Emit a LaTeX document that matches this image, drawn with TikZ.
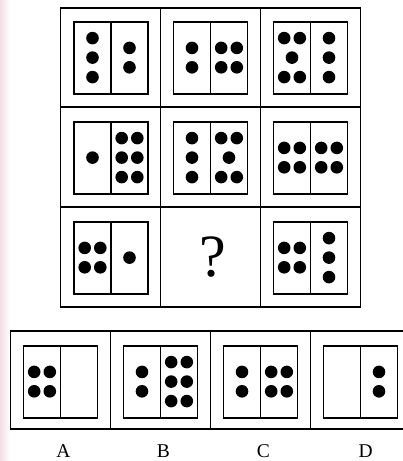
\documentclass[tikz,border=0pt]{standalone}
\usepackage{fontspec}
\setmainfont{Liberation Serif}
\newcommand\pNone[2]{}
\newcommand\pOne[2]{\fill (#1,#2) circle[radius=6.3];}
\newcommand\pTwo[2]{\fill (#1,#2-9.7) circle[radius=6.3] (#1,#2+9.7) circle[radius=6.3];}
\newcommand\pThree[2]{\fill (#1,#2-19.5) circle[radius=6.3] (#1,#2) circle[radius=6.3] (#1,#2+19.5) circle[radius=6.3];}
\newcommand\pFour[2]{\fill (#1-7.8,#2-9.7) circle[radius=6.3] (#1+7.8,#2-9.7) circle[radius=6.3] (#1-7.8,#2+9.7) circle[radius=6.3] (#1+7.8,#2+9.7) circle[radius=6.3];}
\newcommand\pFive[2]{\fill (#1-7.8,#2-19.5) circle[radius=6.3] (#1+7.8,#2-19.5) circle[radius=6.3] (#1,#2) circle[radius=6.3] (#1-7.8,#2+19.5) circle[radius=6.3] (#1+7.8,#2+19.5) circle[radius=6.3];}
\newcommand\pSix[2]{\fill (#1-7.8,#2-19.5) circle[radius=6.3] (#1+7.8,#2-19.5) circle[radius=6.3] (#1-7.8,#2) circle[radius=6.3] (#1+7.8,#2) circle[radius=6.3] (#1-7.8,#2+19.5) circle[radius=6.3] (#1+7.8,#2+19.5) circle[radius=6.3];}
% #1 divider x, #2 centre y, #3 left pattern, #4 right pattern
\newcommand\card[4]{%
  \draw[innerbox] (#1-37,#2-36) rectangle (#1+37,#2+36);
  \draw[innerbox] (#1,#2-36) -- (#1,#2+36);
  #3{#1-18.5}{#2-0.4}
  #4{#1+18.5}{#2-0.4}
}
\begin{document}
\begin{tikzpicture}[x=1pt,y=-1pt,
  frame/.style={draw=black,line width=1.9pt},
  innerbox/.style={draw=black,line width=1.8pt},
  lbl/.style={font=\fontsize{19.5}{20}\selectfont,anchor=base,inner sep=0pt}]
\useasboundingbox (0,0) rectangle (403,461);
\clip (0,0) rectangle (403,461);
\fill[white] (0,0) rectangle (403,461);
\shade[left color={rgb,255:red,243;green,222;blue,228},right color=white] (0,0) rectangle (10,461);
% top grid
\draw[frame] (60.5,8) rectangle (360.5,307);
\draw[frame] (160.5,8) -- (160.5,307) (260.5,8) -- (260.5,307);
\draw[frame] (60.5,107) -- (360.5,107) (60.5,207) -- (360.5,207);
% row 1
\card{111}{58}{\pThree}{\pTwo}
\card{210.5}{58}{\pTwo}{\pFour}
\card{310.5}{58}{\pFive}{\pThree}
% row 2
\card{111}{158}{\pOne}{\pSix}
\card{210.5}{158}{\pThree}{\pFive}
\card{310.5}{158}{\pFour}{\pFour}
% row 3
\card{111}{258}{\pFour}{\pOne}
\node[inner sep=0pt,font=\fontsize{60}{60}\selectfont] (q) at (213,257) {?};
\card{310.5}{258}{\pFour}{\pThree}
% options
\draw[frame] (10.5,330.7) rectangle (412,429);
\draw[frame] (110.5,330.7) -- (110.5,429) (210.5,330.7) -- (210.5,429) (310.5,330.7) -- (310.5,429);
\card{60.5}{382}{\pFour}{\pNone}
\card{160.5}{382}{\pTwo}{\pSix}
\card{260.5}{382}{\pTwo}{\pFour}
\card{360.5}{382}{\pNone}{\pTwo}
\node[lbl] (la) at (63.3,457) {A};
\node[lbl] (lb) at (163.3,457) {B};
\node[lbl] (lc) at (263.3,457) {C};
\node[lbl] (ld) at (365.7,457) {D};
\end{tikzpicture}
\end{document}
